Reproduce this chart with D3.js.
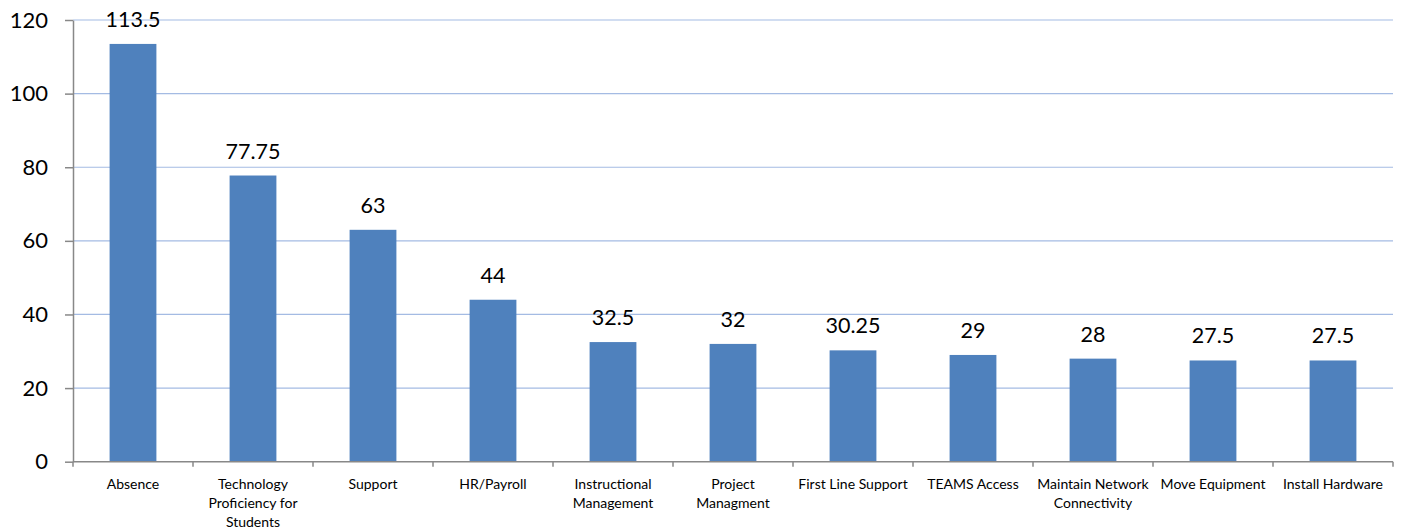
<!DOCTYPE html>
<html><head><meta charset="utf-8">
<script src="https://cdn.jsdelivr.net/npm/d3@7"></script>
<style>body{margin:0;background:#fff;} svg{display:block;}</style>
</head><body>
<svg id="c" width="1402" height="529"></svg>
<script>
const categories = ["Absence","Technology Proficiency for Students","Support","HR/Payroll","Instructional Management","Project Managment","First Line Support","TEAMS Access","Maintain Network Connectivity","Move Equipment","Install Hardware"];
const labelLines = [["Absence"],["Technology","Proficiency for","Students"],["Support"],["HR/Payroll"],["Instructional","Management"],["Project","Managment"],["First Line Support"],["TEAMS Access"],["Maintain Network","Connectivity"],["Move Equipment"],["Install Hardware"]];
const values = [113.5,77.75,63,44,32.5,32,30.25,29,28,27.5,27.5];
const valueLabels = ["113.5","77.75","63","44","32.5","32","30.25","29","28","27.5","27.5"];
const yTicks = [0,20,40,60,80,100,120];

const svg = d3.select("#c");
const m = {l:73, r:1393, t:20, b:461.7};
const x = d3.scaleBand().domain(categories).range([m.l, m.r]).paddingInner(0.61).paddingOuter(0.305);
const y = d3.scaleLinear().domain([0,120]).range([m.b, m.t]);
const font = "Lato, 'Open Sans', sans-serif";

svg.append("g").selectAll("line").data(yTicks.filter(d=>d>0)).join("line")
  .attr("x1", m.l).attr("x2", m.r).attr("y1", d=>y(d)).attr("y2", d=>y(d))
  .attr("stroke", "#a4bbe3").attr("stroke-width", 1.2);

svg.append("g").selectAll("rect").data(values).join("rect")
  .attr("x", (d,i)=>x(categories[i])).attr("width", x.bandwidth())
  .attr("y", d=>y(d)).attr("height", d=>y(0)-y(d))
  .attr("fill", "#4f81bd");

svg.append("g").selectAll("text").data(values).join("text")
  .attr("x", (d,i)=>x(categories[i]) + x.bandwidth()/2)
  .attr("y", d=>y(d) - 17)
  .attr("text-anchor","middle").attr("font-family", font).attr("font-size", 21.5).attr("fill","#000")
  .text((d,i)=>valueLabels[i]);

const yAxis = svg.append("g").attr("transform", `translate(${m.l},0)`)
  .call(d3.axisLeft(y).tickValues(yTicks).tickSize(8).tickPadding(17).tickSizeOuter(0));
yAxis.select(".domain").attr("stroke","#888").attr("stroke-width",1.5);
yAxis.selectAll(".tick line").attr("stroke","#888").attr("stroke-width",1.5);
yAxis.selectAll(".tick text").attr("font-family", font).attr("font-size", 22).attr("fill","#000");

const bounds = d3.range(categories.length+1).map(i => m.l + i*x.step());
svg.append("line").attr("x1", m.l).attr("x2", m.r).attr("y1", m.b).attr("y2", m.b)
  .attr("stroke","#888").attr("stroke-width",1.5);
svg.append("g").selectAll("line").data(bounds).join("line")
  .attr("x1", d=>d).attr("x2", d=>d).attr("y1", m.b).attr("y2", m.b+5)
  .attr("stroke","#888").attr("stroke-width",1.5);

const xl = svg.append("g").selectAll("text").data(categories).join("text")
  .attr("x", d=>x(d)+x.bandwidth()/2).attr("y", 489)
  .attr("text-anchor","middle").attr("font-family", font).attr("font-size", 14).attr("fill","#000");
xl.each(function(d,i){
  const t = d3.select(this);
  labelLines[i].forEach((ln,j)=>{
    t.append("tspan").attr("x", x(d)+x.bandwidth()/2).attr("dy", j===0?0:19).text(ln);
  });
});
</script>
</body></html>
